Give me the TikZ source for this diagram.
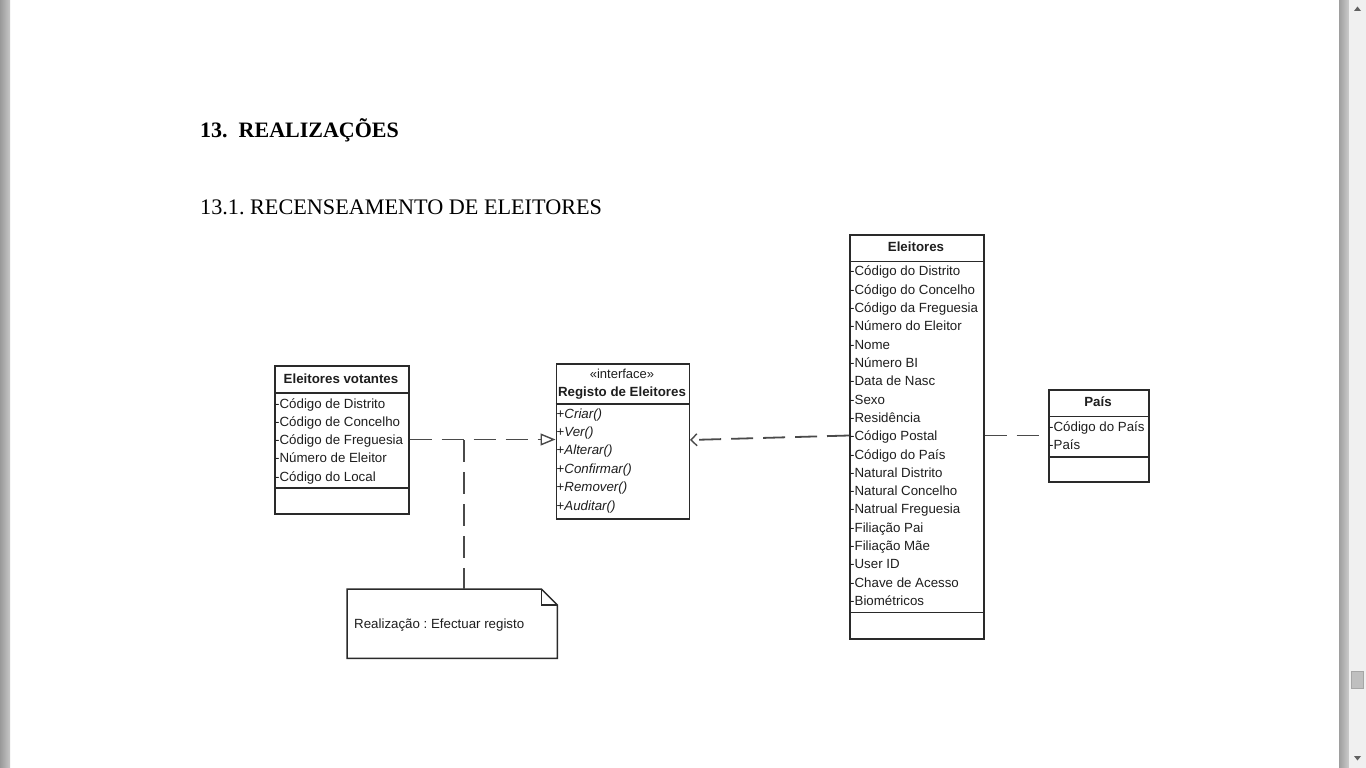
\documentclass[tikz,border=0pt]{standalone}
\usepackage{fontspec}
\setmainfont{Liberation Sans}
\newfontfamily\serifttl{Liberation Serif}
\usetikzlibrary{arrows.meta}
\definecolor{boxline}{HTML}{2A2A2A}
\definecolor{txt}{HTML}{1E1E1E}
\definecolor{dashcol}{HTML}{4A4A4A}
\frenchspacing
\begin{document}
\begin{tikzpicture}[x=1pt,y=-1pt,
  cls/.style={draw=boxline, line width=1.5pt, fill=white, inner sep=0, anchor=north west},
  sep/.style={draw=boxline, line width=1.5pt},
  attr/.style={anchor=base west, inner sep=0, text=txt, font=\fontsize{13.3}{16}\selectfont},
  hdr/.style={anchor=base, inner sep=0, text=txt, font=\bfseries\fontsize{13.3}{16}\selectfont},
  dep/.style={draw=dashcol, line width=1.8pt, dash pattern=on 22pt off 10pt},
]
\useasboundingbox (0,0) rectangle (1366,768);
% page chrome
\fill[white] (0,0) rectangle (1366,768);
\shade[left color=black!40, right color=black!22] (0,0) rectangle (10,768);
\shade[left color=black!38, right color=black!20] (1339,0) rectangle (1349,768);
\fill[black!6] (1349,0) rectangle (1366,768);
\filldraw[fill=black!25, draw=black!35, line width=0.8pt] (1351.5,671) rectangle (1363.5,688);
\fill[black!62] (1354,11) -- (1361,11) -- (1357.5,6.5) -- cycle;
\fill[black!62] (1354,756) -- (1361,756) -- (1357.5,760.5) -- cycle;

% headings
\node[anchor=base west, inner sep=0, font=\serifttl\bfseries\fontsize{22}{26}\selectfont] (h1) at (200,137) {13.\ \ REALIZAÇÕES};
\node[anchor=base west, inner sep=0, font=\serifttl\fontsize{22.2}{26}\selectfont] (h2) at (200,214) {13.1. RECENSEAMENTO DE ELEITORES};

% Eleitores votantes
\node[cls, minimum width=134, minimum height=148] (ev) at (274,365) {};
\draw[sep] (274,393) -- (408,393);
\draw[sep] (274,488) -- (408,488);
\node[hdr] at (341,383) {Eleitores votantes};
\foreach \t [count=\i from 0] in {Código de Distrito,Código de Concelho,Código de Freguesia,Número de Eleitor,Código do Local}
  \node[attr] at (275,408+\i*18.33) {-\t};

% Registo de Eleitores
\node[cls, minimum width=133, minimum height=155] (reg) at (555.5,363) {};
\draw[sep] (555.5,404) -- (688.5,404);
\node[anchor=base, inner sep=0, text=txt, font=\fontsize{13}{16}\selectfont] at (622,378) {«interface»};
\node[hdr] at (622,396.5) {Registo de Eleitores};
\foreach \t [count=\i from 0] in {Criar(),Ver(),Alterar(),Confirmar(),Remover(),Auditar()}
  \node[attr] at (556.5,418+\i*18.4) {+\textit{\t}};

% Eleitores
\node[cls, minimum width=134, minimum height=404] (el) at (849,234) {};
\draw[sep] (849,261.5) -- (983,261.5);
\draw[sep] (849,612.5) -- (983,612.5);
\node[hdr] at (916,251) {Eleitores};
\foreach \t [count=\i from 0] in {Código do Distrito,Código do Concelho,Código da Freguesia,Número do Eleitor,Nome,Número BI,Data de Nasc,Sexo,Residência,Código Postal,Código do País,Natural Distrito,Natural Concelho,Natrual Freguesia,Filiação Pai,Filiação Mãe,User ID,Chave de Acesso,Biométricos}
  \node[attr] at (850,275.7+\i*18.33) {-\t};

% País
\node[cls, minimum width=100, minimum height=92] (pa) at (1048,389) {};
\draw[sep] (1048,416.5) -- (1148,416.5);
\draw[sep] (1048,457) -- (1148,457);
\node[hdr] at (1098,406.5) {País};
\foreach \t [count=\i from 0] in {Código do País,País}
  \node[attr] at (1049,431.5+\i*18.33) {-\t};

% Note
\node[inner sep=0, minimum width=210, minimum height=69, anchor=north west] (note) at (347,589) {};
\draw[boxline, line width=1.5pt, fill=white, line join=miter] (note.north west) -- ([xshift=-16pt]note.north east) -- ([yshift=-16pt]note.north east) -- (note.south east) -- (note.south west) -- cycle;
\draw[boxline, line width=1.5pt] ([xshift=-16pt]note.north east) |- ([yshift=-16pt]note.north east);
\node[attr] at (354,628) {Realização : Efectuar registo};

% connectors
\coordinate (j) at (464,440);
\draw[dep, -{Triangle[open, length=15pt, width=12pt, line width=1.4pt]}] (ev.east |- 0,439.5) -- (reg.west |- 0,439.5);
\draw[dep] (j) -- (j |- note.north);
\draw[dep, -{Straight Barb[length=6pt, width=12pt, line width=1.4pt]}] (el.west |- 0,435.5) -- (reg.east |- 0,440);
\draw[dep] (el.east |- 0,435.5) -- (pa.west |- 0,435.5);
\end{tikzpicture}
\end{document}
